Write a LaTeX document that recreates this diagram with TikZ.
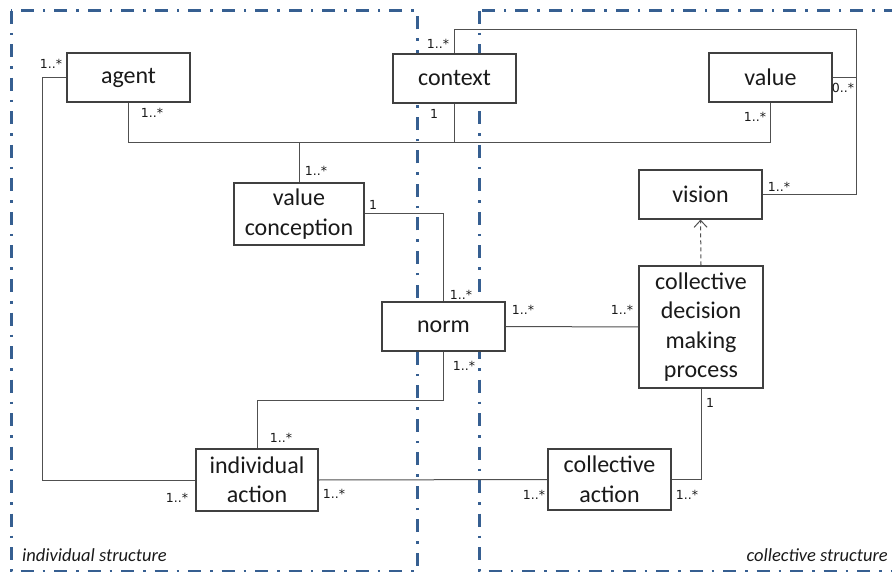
\documentclass[tikz,border=0pt]{standalone}
\usepackage{fontspec}
\setmainfont{Carlito}
\newfontfamily\lblfont{DejaVu Sans}
\usetikzlibrary{arrows.meta}
\definecolor{frameblue}{HTML}{365F91}
\definecolor{boxline}{HTML}{404040}
\definecolor{conn}{HTML}{505050}
\definecolor{txt}{HTML}{1A1A1A}
\begin{document}
\begin{tikzpicture}[x=1pt,y=-1pt,
  cls/.style={draw=boxline,line width=1.2pt,fill=white,inner sep=0pt,align=center,
    font=\fontsize{24}{29.5}\selectfont,text=txt},
  mult/.style={anchor=base,font=\lblfont\fontsize{12.5}{14}\selectfont,text=txt,inner sep=0pt},
  link/.style={draw=conn,line width=1pt},
  frame/.style={draw=frameblue,line width=3pt,dash pattern=on 13pt off 9pt on 2.5pt off 9pt},
  struct/.style={font=\itshape\fontsize{18.5}{22}\selectfont,text=txt,inner sep=0pt}]
\useasboundingbox (0,0) rectangle (892,572);
% structure frames
\draw[frame] (11,11) rectangle (417,571);
\draw[frame] (479,11) rectangle (915,571);
\node[struct,anchor=base west] (lind) at (22,561) {individual structure};
\node[struct,anchor=base east] (lcol) at (888,561) {collective structure};
% classes
\node[cls,minimum width=123pt,minimum height=49pt] (agent) at (128.5,77.5) {agent};
\node[cls,minimum width=123pt,minimum height=49pt] (context) at (454.5,78.5) {context};
\node[cls,minimum width=123pt,minimum height=49pt] (value) at (770.5,77.5) {value};
\node[cls,minimum width=123pt,minimum height=49pt] (vision) at (700.5,194.5) {vision};
\node[cls,minimum width=130pt,minimum height=62pt] (valconc) at (299,214) {value\\conception};
\node[cls,minimum width=123pt,minimum height=49pt] (norm) at (443.5,326.5) {norm};
\node[cls,minimum width=124pt,minimum height=122pt] (cdmp) at (701,327) {collective\\decision\\making\\process};
\node[cls,minimum width=122pt,minimum height=62pt] (indiv) at (257,480) {individual\\action};
\node[cls,minimum width=123pt,minimum height=61pt] (collact) at (609.5,479.5) {collective\\action};
% helper coordinates
\coordinate (bus) at (0,143);
\coordinate (rt) at (856,30);
% connectors
\draw[link] (agent.west) -- ++(-24,0) |- (indiv.west);
\draw[link] (agent.south) -- (agent.south |- bus) -- (value.south |- bus) -- (value.south);
\draw[link] (context.south) -- (context.south |- bus);
\draw[link] (valconc.north) -- (valconc.north |- bus);
\draw[link] (context.north) |- (rt) |- (vision.east);
\draw[link] (value.east) -- (value.east -| rt);
\draw[link] (valconc.east) -| (norm.north);
\draw[link] (norm.south) -- ++(0,49) -| (indiv.north);
\draw[link] (norm.east) -- (cdmp.west);
\draw[link,dash pattern=on 4pt off 3pt,-{Straight Barb[length=7pt,width=13pt]}] (cdmp.north) -- (vision.south);
\draw[link] (indiv.east) -- (collact.west);
\draw[link] (collact.east) -| (cdmp.south);
% multiplicities
\node[mult] (m1) at (51,69) {1..*};
\node[mult] (m2) at (152,118) {1..*};
\node[mult] (m3) at (438,49) {1..*};
\node[mult] (m4) at (434,119) {1};
\node[mult] (m5) at (316,176) {1..*};
\node[mult] (m6) at (373,210) {1};
\node[mult] (m7) at (461,299) {1..*};
\node[mult] (m8) at (464,370) {1..*};
\node[mult] (m9) at (523,314) {1..*};
\node[mult] (m10) at (622,314) {1..*};
\node[mult] (m11) at (843,93) {0..*};
\node[mult] (m12) at (755,122) {1..*};
\node[mult] (m13) at (779,192) {1..*};
\node[mult] (m14) at (281,442) {1..*};
\node[mult] (m15) at (177,502) {1..*};
\node[mult] (m16) at (334,498) {1..*};
\node[mult] (m17) at (710,407) {1};
\node[mult] (m18) at (534,499) {1..*};
\node[mult] (m19) at (687,499) {1..*};
\end{tikzpicture}
\end{document}
